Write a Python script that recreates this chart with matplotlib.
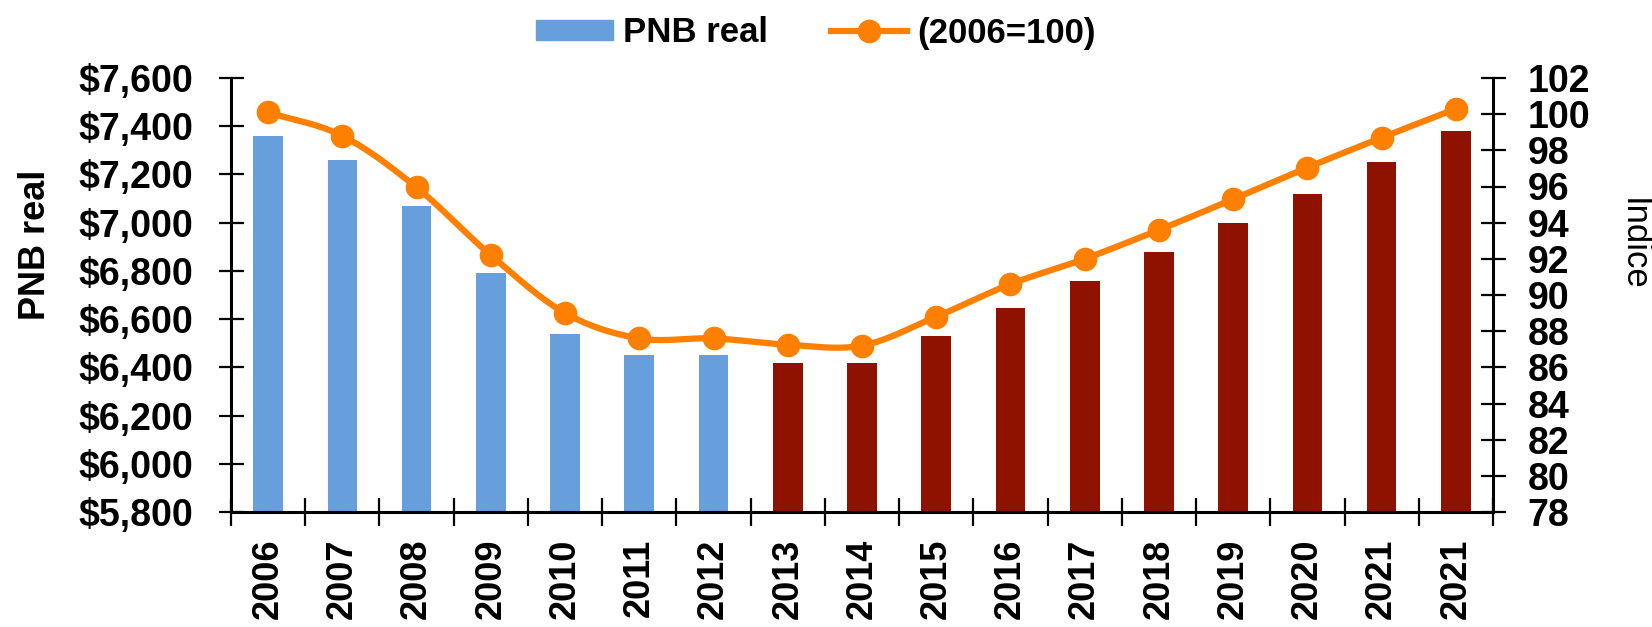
import matplotlib
matplotlib.use("Agg")
import matplotlib.pyplot as plt
import numpy as np
from matplotlib.ticker import FuncFormatter, FixedLocator
from matplotlib.patches import Patch
from matplotlib.lines import Line2D

# ---------------- data ----------------
years = ['2006', '2007', '2008', '2009', '2010', '2011', '2012', '2013', '2014',
         '2015', '2016', '2017', '2018', '2019', '2020', '2021', '2021']
pnb_real = [7360, 7260, 7070, 6790, 6540, 6450, 6450, 6420, 6420,
            6530, 6645, 6760, 6880, 7000, 7120, 7250, 7380]
indice = [100.1, 98.8, 95.95, 92.2, 89.0, 87.6, 87.6, 87.25, 87.2,
          88.8, 90.6, 92.0, 93.6, 95.3, 97.05, 98.7, 100.3]
observed = [True] * 7 + [False] * 10     # historical vs projected bars

left_ticks = [5800, 6000, 6200, 6400, 6600, 6800, 7000, 7200, 7400, 7600]
right_ticks = list(range(78, 103, 2))

# ---------------- style ----------------
BLUE = '#669FDB'
RED = '#8F1200'
ORANGE = '#FF8000'
plt.rcParams['font.family'] = ['Liberation Sans', 'DejaVu Sans']
plt.rcParams['font.weight'] = 'bold'

W, H = 1652, 627
fig = plt.figure(figsize=(W / 100, H / 100), dpi=100)
ax = fig.add_axes([231 / W, 1 - 512 / H, (1493 - 231) / W, (512 - 78) / H])

x = np.arange(len(years))
colors = [BLUE if o else RED for o in observed]
ax.bar(x, pnb_real, width=0.4, color=colors, zorder=2)
ax.set_xlim(-0.5, len(years) - 0.5)
ax.set_ylim(5800, 7600)
ax.yaxis.set_major_locator(FixedLocator(left_ticks))
ax.yaxis.set_major_formatter(FuncFormatter(lambda v, p: f"${v:,.0f}"))

# x: tick marks at category boundaries, labels at centres
ax.xaxis.set_major_locator(FixedLocator(np.arange(-0.5, len(years), 1.0)))
ax.xaxis.set_minor_locator(FixedLocator(x))
ax.set_xticklabels([], minor=False)
ax.set_xticklabels(years, minor=True, rotation=90, fontsize=26, fontweight='bold')
ax.tick_params(axis='x', which='major', direction='inout', length=20, width=1.6)
ax.tick_params(axis='x', which='minor', length=0, pad=19)
ax.tick_params(axis='y', direction='inout', length=18, width=1.6, pad=18, labelsize=27)

for s in ['top', 'right']:
    ax.spines[s].set_visible(False)
for s in ['left', 'bottom']:
    ax.spines[s].set_linewidth(2.2)

ax.set_ylabel('PNB real', fontsize=26, fontweight='bold', va='center')
ax.yaxis.set_label_coords((36 - 231) / (1493 - 231), (512 - 245) / (512 - 78))

# ---------------- secondary axis ----------------
ax2 = ax.twinx()
ax2.set_ylim(78, 102)
ax2.yaxis.set_major_locator(FixedLocator(right_ticks))
ax2.tick_params(axis='y', direction='inout', length=18, width=1.6, pad=16, labelsize=27)
for s in ['top', 'left', 'bottom']:
    ax2.spines[s].set_visible(False)
ax2.spines['right'].set_linewidth(2.2)


def catmull_rom(xs, ys, n=20):
    xs = np.asarray(xs, float)
    ys = np.asarray(ys, float)
    px = np.concatenate([[2 * xs[0] - xs[1]], xs, [2 * xs[-1] - xs[-2]]])
    py = np.concatenate([[2 * ys[0] - ys[1]], ys, [2 * ys[-1] - ys[-2]]])
    ox, oy = [], []
    t = np.linspace(0, 1, n, endpoint=False)
    for i in range(1, len(px) - 2):
        for arr, out in ((px, ox), (py, oy)):
            p0, p1, p2, p3 = arr[i - 1], arr[i], arr[i + 1], arr[i + 2]
            out.extend(0.5 * ((2 * p1) + (-p0 + p2) * t +
                              (2 * p0 - 5 * p1 + 4 * p2 - p3) * t ** 2 +
                              (-p0 + 3 * p1 - 3 * p2 + p3) * t ** 3))
    ox.append(xs[-1])
    oy.append(ys[-1])
    return np.array(ox), np.array(oy)


sx, sy = catmull_rom(x, indice)
ax2.plot(sx, sy, color=ORANGE, lw=4.5, solid_capstyle='round', zorder=3)
ax2.plot(x, indice, 'o', color=ORANGE, ms=16, zorder=4)

ax2.set_ylabel('Indice', fontsize=25, fontweight='normal', rotation=270, va='center')
ax2.yaxis.set_label_coords((1633 - 231) / (1493 - 231), (512 - 244) / (512 - 78))

# ---------------- legend ----------------
handles = [Patch(color=BLUE, label='PNB real'),
           Line2D([0], [0], color=ORANGE, lw=4.5, marker='o', ms=16, label='(2006=100)')]
fig.legend(handles=handles, loc='center', bbox_to_anchor=(816 / W, 1 - 33 / H),
           ncol=2, frameon=False, fontsize=25, handlelength=2.2, handleheight=0.5,
           handletextpad=0.3, columnspacing=1.8, borderpad=0)

fig.savefig('out.png', dpi=100)
